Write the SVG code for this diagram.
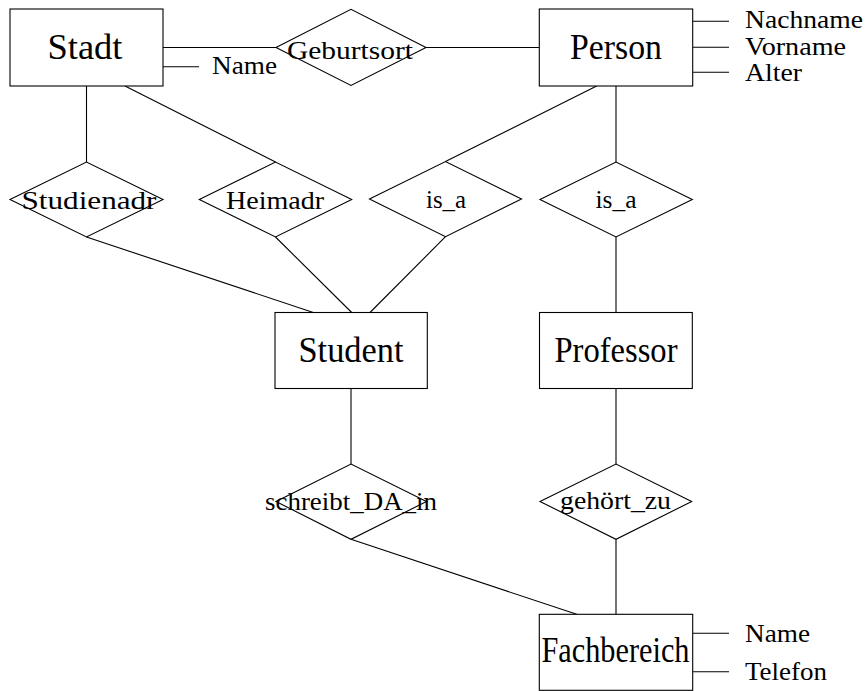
<svg xmlns="http://www.w3.org/2000/svg" width="867" height="691" viewBox="0 0 867 691">
  <style>
    .box { fill: #ffffff; stroke: #000000; stroke-width: 1.1; }
    .rel { fill: none; stroke: #000000; stroke-width: 1.1; }
    .edge { fill: none; stroke: #000000; stroke-width: 1.1; }
    .ent { font-size: 35px; text-anchor: middle; }
    .lbl { font-size: 26px; text-anchor: middle; }
    .att { font-size: 26px; }
  </style>
  <rect width="867" height="691" fill="#ffffff"/>

  <!-- connectors between entities and relationships, and attribute ticks -->
  <g id="connectors" class="edge">
    <line x1="163" y1="47.5" x2="276" y2="47.5"/>
    <line x1="426" y1="47.5" x2="539" y2="47.5"/>
    <line x1="163" y1="66.7" x2="199" y2="66.7"/>
    <line x1="693" y1="21.3" x2="729" y2="21.3"/>
    <line x1="693" y1="47.3" x2="729" y2="47.3"/>
    <line x1="693" y1="72.3" x2="729" y2="72.3"/>
    <line x1="86.5" y1="86" x2="86.5" y2="162"/>
    <line x1="125" y1="86" x2="275.5" y2="162"/>
    <line x1="596.7" y1="86" x2="445.5" y2="161.5"/>
    <line x1="616" y1="86" x2="616" y2="162"/>
    <line x1="86.5" y1="237" x2="313.3" y2="312.5"/>
    <line x1="275.5" y1="237" x2="351.7" y2="312.5"/>
    <line x1="445.5" y1="236.7" x2="370" y2="312.5"/>
    <line x1="616" y1="237" x2="616" y2="312.5"/>
    <line x1="351" y1="388.5" x2="351" y2="464"/>
    <line x1="616" y1="388.5" x2="616" y2="464"/>
    <line x1="351" y1="539.3" x2="576.7" y2="614.3"/>
    <line x1="616" y1="539.3" x2="616" y2="614.3"/>
    <line x1="693" y1="633.3" x2="729" y2="633.3"/>
    <line x1="693" y1="671.7" x2="729" y2="671.7"/>
  </g>

  <g font-family="Liberation Serif, Times New Roman, serif" fill="#000000">
  <!-- entities -->
  <g id="stadt">
    <rect class="box" x="10" y="9" width="153" height="77"/>
    <text class="ent" x="85" y="59.3" textLength="75" lengthAdjust="spacingAndGlyphs">Stadt</text>
    <text class="att" x="212" y="74" textLength="65" lengthAdjust="spacingAndGlyphs">Name</text>
  </g>
  <g id="person">
    <rect class="box" x="539.3" y="9" width="153.4" height="77"/>
    <text class="ent" x="616" y="59.3" textLength="92" lengthAdjust="spacingAndGlyphs">Person</text>
    <text class="att" x="745" y="27.5" textLength="118" lengthAdjust="spacingAndGlyphs">Nachname</text>
    <text class="att" x="745" y="54.5" textLength="101" lengthAdjust="spacingAndGlyphs">Vorname</text>
    <text class="att" x="745" y="81" textLength="57" lengthAdjust="spacingAndGlyphs">Alter</text>
  </g>
  <g id="student">
    <rect class="box" x="275" y="312.5" width="152.3" height="76"/>
    <text class="ent" x="351" y="362.3" textLength="105" lengthAdjust="spacingAndGlyphs">Student</text>
  </g>
  <g id="professor">
    <rect class="box" x="539.5" y="312.5" width="152.8" height="76"/>
    <text class="ent" x="616" y="361.8" textLength="123" lengthAdjust="spacingAndGlyphs">Professor</text>
  </g>
  <g id="fachbereich">
    <rect class="box" x="539.3" y="614.3" width="153.4" height="76"/>
    <text class="ent" x="615.5" y="662.3" textLength="148" lengthAdjust="spacingAndGlyphs">Fachbereich</text>
    <text class="att" x="745" y="641.7" textLength="65" lengthAdjust="spacingAndGlyphs">Name</text>
    <text class="att" x="745" y="680" textLength="82" lengthAdjust="spacingAndGlyphs">Telefon</text>
  </g>

  <!-- relationships -->
  <g id="geburtsort">
    <polygon class="rel" points="276,47.5 351,9.3 426,47.5 351,85.5"/>
    <text class="lbl" x="350" y="59" textLength="126" lengthAdjust="spacingAndGlyphs">Geburtsort</text>
  </g>
  <g id="studienadr">
    <polygon class="rel" points="10,199.5 86.5,162 163,199.5 86.5,237"/>
    <text class="lbl" x="89" y="209" textLength="135" lengthAdjust="spacingAndGlyphs">Studienadr</text>
  </g>
  <g id="heimadr">
    <polygon class="rel" points="199.3,199.5 275.5,162 351.7,199.5 275.5,237"/>
    <text class="lbl" x="275" y="209" textLength="98" lengthAdjust="spacingAndGlyphs">Heimadr</text>
  </g>
  <g id="is_a_student">
    <polygon class="rel" points="369.5,199 445.5,161.5 521.5,199 445.5,236.7"/>
    <text class="lbl" x="446" y="208.3" textLength="40" lengthAdjust="spacingAndGlyphs">is_a</text>
  </g>
  <g id="is_a_professor">
    <polygon class="rel" points="540,199.5 616,162 692.3,199.5 616,237"/>
    <text class="lbl" x="616" y="208.3" textLength="41" lengthAdjust="spacingAndGlyphs">is_a</text>
  </g>
  <g id="schreibt_da_in">
    <polygon class="rel" points="276,501.5 351,464 426.5,501.5 351,539.3"/>
    <text class="lbl" x="351" y="510" textLength="172" lengthAdjust="spacingAndGlyphs">schreibt_DA_in</text>
  </g>
  <g id="gehoert_zu">
    <polygon class="rel" points="540,501.5 616,464 691.7,501.5 616,539.3"/>
    <text class="lbl" x="615.5" y="508.5" textLength="111" lengthAdjust="spacingAndGlyphs">gehört_zu</text>
  </g>
  </g>
</svg>
